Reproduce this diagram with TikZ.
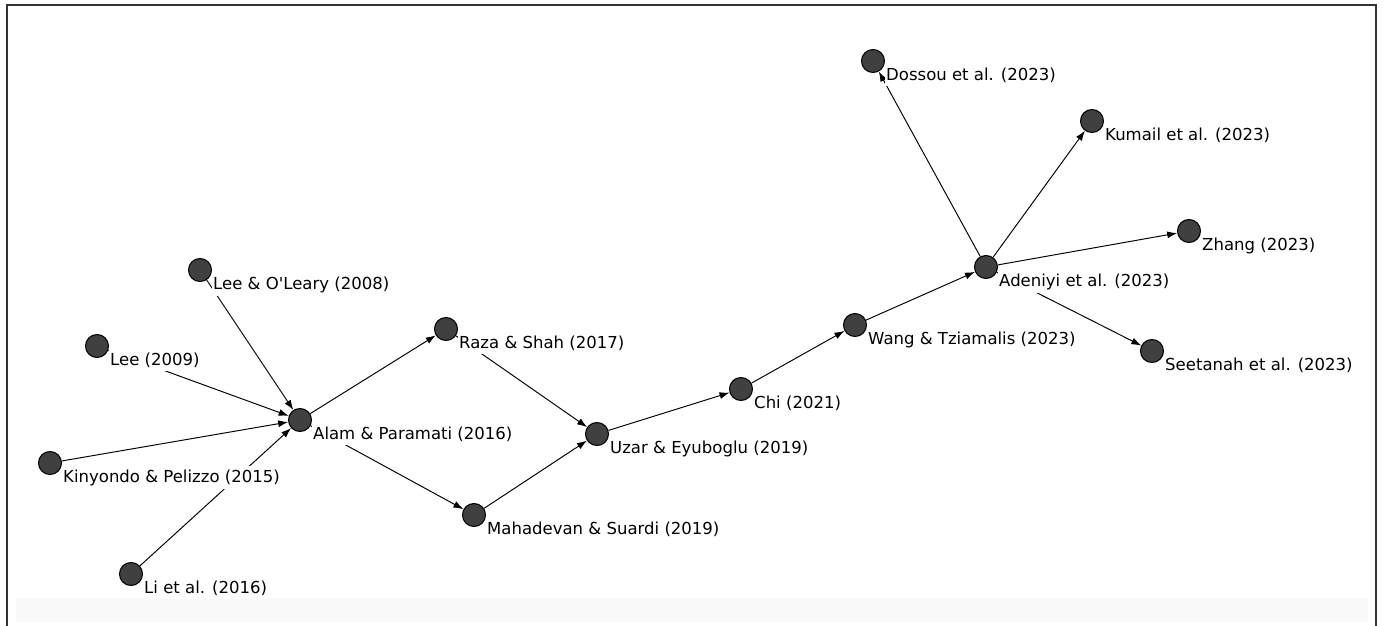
\documentclass[tikz,border=0pt]{standalone}
\usepackage{fontspec}
\setmainfont{DejaVu Sans}
\usetikzlibrary{arrows.meta}

\tikzset{
  paper/.style={x=0.02cm,y=-0.02cm},
  pt/.style={circle,draw=black,fill=black!75,line width=0.6pt,minimum size=0.46cm,inner sep=0pt},
  lbl/.style={anchor=base west,fill=white,inner xsep=0.5pt,inner ysep=2pt,font=\fontsize{9.4}{11}\selectfont},
  cite/.style={-{Latex[length=0.2cm,width=0.14cm]},line width=0.55pt},
}

\begin{document}
\begin{tikzpicture}[paper]
\useasboundingbox (0,0) rectangle (1384,626);

% frame
\fill[black!2.5] (16,598) rectangle (1368,622);
\draw[black!80,line width=1.1pt] (7,626) -- (7,5) -- (1376,5) -- (1376,626);

% papers
\node[pt] (leeoleary) at (200,270) {};
\node[pt] (lee) at (97,346) {};
\node[pt] (kinyondo) at (50,463) {};
\node[pt] (li) at (131,574) {};
\node[pt] (alam) at (300,420) {};
\node[pt] (raza) at (446,329) {};
\node[pt] (mahadevan) at (474,515) {};
\node[pt] (uzar) at (597,434) {};
\node[pt] (chi) at (741,389) {};
\node[pt] (wang) at (855,325) {};
\node[pt] (adeniyi) at (986,267) {};
\node[pt] (dossou) at (873,61) {};
\node[pt] (kumail) at (1092,121) {};
\node[pt] (zhang) at (1189,231) {};
\node[pt] (seetanah) at (1152,351) {};

% citations
\draw[cite] (leeoleary) -- (alam);
\draw[cite] (lee) -- (alam);
\draw[cite] (kinyondo) -- (alam);
\draw[cite] (li) -- (alam);
\draw[cite] (alam) -- (raza);
\draw[cite] (alam) -- (mahadevan);
\draw[cite] (raza) -- (uzar);
\draw[cite] (mahadevan) -- (uzar);
\draw[cite] (uzar) -- (chi);
\draw[cite] (chi) -- (wang);
\draw[cite] (wang) -- (adeniyi);
\draw[cite] (adeniyi) -- (dossou);
\draw[cite] (adeniyi) -- (kumail);
\draw[cite] (adeniyi) -- (zhang);
\draw[cite] (adeniyi) -- (seetanah);

% labels
\node[lbl] at ([shift={(12,19)}]leeoleary.center) {Lee \& O\textquotesingle Leary (2008)};
\node[lbl] at ([shift={(12,19)}]lee.center) {Lee (2009)};
\node[lbl] at ([shift={(12,19)}]kinyondo.center) {Kinyondo \& Pelizzo (2015)};
\node[lbl] at ([shift={(12,19)}]li.center) {Li et al. (2016)};
\node[lbl] at ([shift={(12,19)}]alam.center) {Alam \& Paramati (2016)};
\node[lbl] at ([shift={(12,19)}]raza.center) {Raza \& Shah (2017)};
\node[lbl] at ([shift={(12,19)}]mahadevan.center) {Mahadevan \& Suardi (2019)};
\node[lbl] at ([shift={(12,19)}]uzar.center) {Uzar \& Eyuboglu (2019)};
\node[lbl] at ([shift={(12,19)}]chi.center) {Chi (2021)};
\node[lbl] at ([shift={(12,19)}]wang.center) {Wang \& Tziamalis (2023)};
\node[lbl] at ([shift={(12,19)}]adeniyi.center) {Adeniyi et al. (2023)};
\node[lbl] at ([shift={(12,19)}]dossou.center) {Dossou et al. (2023)};
\node[lbl] at ([shift={(12,19)}]kumail.center) {Kumail et al. (2023)};
\node[lbl] at ([shift={(12,19)}]zhang.center) {Zhang (2023)};
\node[lbl] at ([shift={(12,19)}]seetanah.center) {Seetanah et al. (2023)};

\end{tikzpicture}
\end{document}
